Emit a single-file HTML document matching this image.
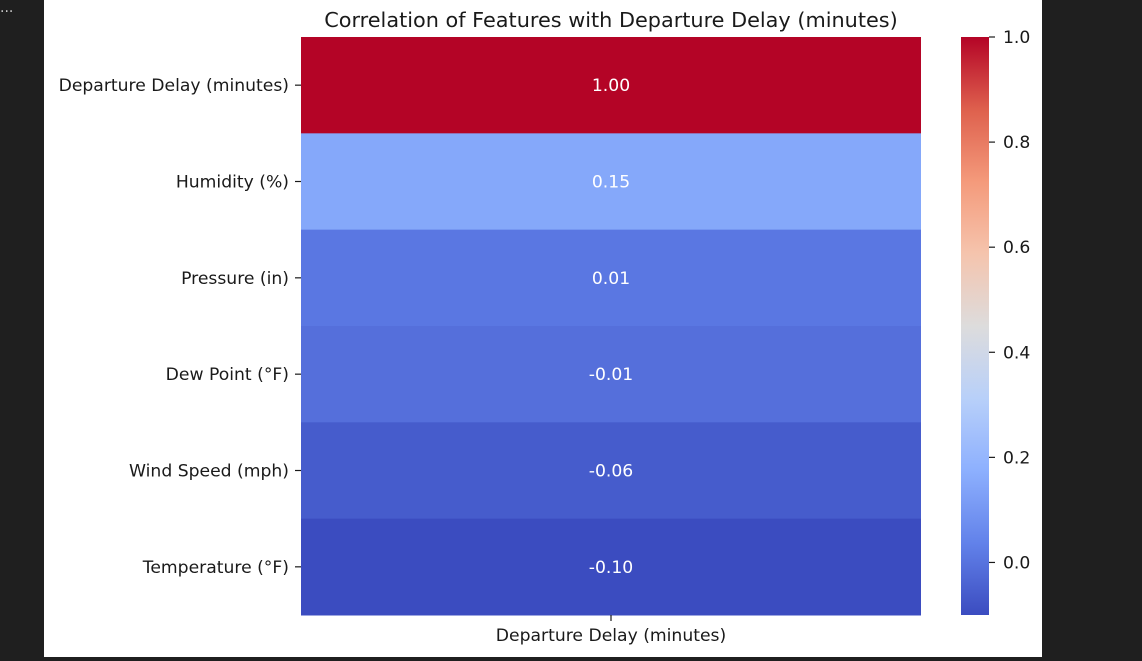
<!DOCTYPE html>
<html><head><meta charset="utf-8"><style>
html,body{margin:0;padding:0;background:#1f1f1f;width:1142px;height:661px;overflow:hidden}
svg{display:block}
text{font-family:"DejaVu Sans","Liberation Sans",sans-serif;fill:#1a1a1a}
</style></head><body>
<svg id="chart" width="1142" height="661">
<rect x="0" y="0" width="1142" height="661" fill="#1f1f1f"/>
<text x="0" y="12" style="fill:#ccc;font-size:14px">...</text>
<rect x="44" y="0" width="998" height="657" fill="#ffffff"/>
<text x="611" y="27" text-anchor="middle" font-size="20.8">Correlation of Features with Departure Delay (minutes)</text>
<g id="cells"></g>
<g id="cbar"></g>
</svg>
<script>
const categories=["Departure Delay (minutes)","Humidity (%)","Pressure (in)","Dew Point (°F)","Wind Speed (mph)","Temperature (°F)"];
const values=[1.00,0.15,0.01,-0.01,-0.06,-0.10];
const columnLabels=["Departure Delay (minutes)"];
const cbarTicks=[0.0,0.2,0.4,0.6,0.8,1.0];
const vmin=-0.10, vmax=1.0;
const ns="http://www.w3.org/2000/svg";
const X0=301,X1=921,Y0=37,Y1=615,CB0=961,CB1=989,FS=17.2;
const stops=[[59,76,192],[98,130,234],[141,176,254],[184,208,249],[221,220,220],[245,196,173],[244,154,123],[222,96,77],[180,4,38]];
function cmap(v){let t=(v-vmin)/(vmax-vmin);t=Math.max(0,Math.min(1,t));const p=t*8,i=Math.min(7,Math.floor(p)),f=p-i;const a=stops[i],b=stops[i+1];return "rgb("+a.map((c,k)=>Math.round(c+(b[k]-c)*f)).join(",")+")";}
const rowH=(Y1-Y0)/categories.length;
function yRow(i){return Y0+i*rowH;}
function yCb(v){return Y1-(v-vmin)/(vmax-vmin)*(Y1-Y0);}
function mk(tag,attrs,parent){const e=document.createElementNS(ns,tag);for(const k in attrs)e.setAttribute(k,attrs[k]);parent.appendChild(e);return e;}
const cells=document.getElementById("cells");
categories.forEach((c,i)=>{
  const r=mk("rect",{x:X0,y:yRow(i),width:X1-X0,height:rowH+0.5,fill:cmap(values[i])},cells);
  
  
  const t=mk("text",{x:(X0+X1)/2,y:yRow(i)+rowH/2+6,"text-anchor":"middle","font-size":FS,style:"fill:#fff"},cells);
  t.textContent=values[i].toFixed(2);
  
  
  const tk=mk("line",{x1:X0-6,x2:X0,y1:yRow(i)+rowH/2,y2:yRow(i)+rowH/2,stroke:"#1a1a1a","stroke-width":1.2},cells);
  
  
  const l=mk("text",{x:X0-12,y:yRow(i)+rowH/2+6,"text-anchor":"end","font-size":FS},cells);
  l.textContent=c;
  
  
});
const xt=mk("line",{x1:(X0+X1)/2,x2:(X0+X1)/2,y1:Y1,y2:Y1+6,stroke:"#1a1a1a","stroke-width":1.2},cells);


const xl=mk("text",{x:(X0+X1)/2,y:Y1+26,"text-anchor":"middle","font-size":FS},cells);
xl.textContent=columnLabels[0];


const cb=document.getElementById("cbar");
const defs=mk("defs",{},cb);
const g=mk("linearGradient",{id:"cg",x1:0,y1:1,x2:0,y2:0},defs);
for(let k=0;k<=16;k++){mk("stop",{offset:k/16,"stop-color":cmap(vmin+(vmax-vmin)*k/16)},g);}
const cr=mk("rect",{x:CB0,y:Y0,width:CB1-CB0,height:Y1-Y0,fill:"url(#cg)"},cb);


cbarTicks.forEach(v=>{
  const y=yCb(v);
  const t=mk("line",{x1:CB1,x2:CB1+6,y1:y,y2:y,stroke:"#1a1a1a","stroke-width":1.2},cb);
  
  
  const l=mk("text",{x:CB1+14,y:y+6,"font-size":FS},cb);
  l.textContent=v.toFixed(1);
  
  
});
</script>
</body></html>
